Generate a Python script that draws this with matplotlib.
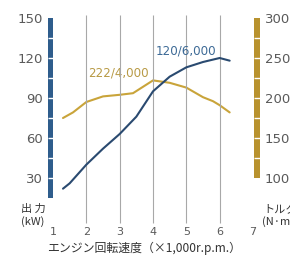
import matplotlib
matplotlib.use("Agg")
import matplotlib.pyplot as plt
from matplotlib.patches import Rectangle

plt.rcParams['font.family'] = ['Noto Sans CJK JP', 'DejaVu Sans']

# data
power_rpm = [1.3, 1.5, 2.0, 2.5, 3.0, 3.5, 4.0, 4.5, 5.0, 5.5, 6.0, 6.3]
power_kw = [22, 26, 40, 52, 63, 76, 95, 106, 113, 117, 120, 118]
torque_rpm = [1.3, 1.6, 2.0, 2.5, 3.0, 3.4, 3.7, 4.0, 4.5, 5.0, 5.5, 5.8, 6.0, 6.3]
torque_nm = [175, 182, 195, 202, 204, 206, 214, 222, 219, 213, 201, 196, 191, 182]
x_ticks = [1, 2, 3, 4, 5, 6, 7]
power_ticks = [30, 60, 90, 120, 150]
torque_ticks = [100, 150, 200, 250, 300]
power_label = "120/6,000"
torque_label = "222/4,000"

blue_bar = '#2f5d8c'
blue_line = '#2a4a70'
blue_text = '#3d6a96'
gold_bar = '#b8922e'
gold_line = '#c9a43a'
gold_text = '#b89a45'
tick_col = '#5a5a5a'

fig = plt.figure(figsize=(2.9, 2.57), dpi=100)
ax = fig.add_axes([53/290, 1-223/257, 200/290, 205/257])
ax.set_xlim(1, 7)
ax.set_ylim(-3.75, 150)
ax2 = ax.twinx()
ax2.set_ylim(43.75, 300)

for a in (ax, ax2):
    for s in a.spines.values():
        s.set_visible(False)
    a.patch.set_visible(False)

# grid lines
ax.vlines([2, 3, 4, 5, 6], -3.75, 152, colors='#a8a8a8', lw=0.8, clip_on=False, zorder=1)

# left bar
ax.add_patch(Rectangle((0.855, 15), 0.145, 135, color=blue_bar, clip_on=False, lw=0, zorder=2))
ax.hlines(list(range(30, 150, 15)), 0.85, 1.005, colors='white', lw=1.0, clip_on=False, zorder=3)
# right bar
ax2.add_patch(Rectangle((7.03, 100), 0.18, 200, color=gold_bar, clip_on=False, lw=0, zorder=2))
ax2.hlines(list(range(125, 300, 25)), 7.025, 7.215, colors='white', lw=1.0, clip_on=False, zorder=3)

# curves
ax2.plot(torque_rpm, torque_nm, color=gold_line, lw=1.5, zorder=4, solid_capstyle='round')
ax.plot(power_rpm, power_kw, color=blue_line, lw=1.5, zorder=5, solid_capstyle='round')
ax.set_zorder(ax2.get_zorder() + 1)

ax.text(4.99, 125.5, power_label, color=blue_text, fontsize=8.6, ha='center', va='center',
        family='DejaVu Sans')
ax2.text(2.95, 231, torque_label, color=gold_text, fontsize=8.6, ha='center', va='center',
         family='DejaVu Sans')

# ticks
ax.set_xticks(x_ticks)
ax.set_xticklabels([str(v) for v in x_ticks], family='DejaVu Sans')
ax.set_yticks(power_ticks)
ax.set_yticklabels([str(v) for v in power_ticks], family='DejaVu Sans')
ax2.set_yticks(torque_ticks)
ax2.set_yticklabels([str(v) for v in torque_ticks], family='DejaVu Sans')
ax.tick_params(axis='x', length=0, pad=3, labelsize=8, labelcolor=tick_col)
ax.tick_params(axis='y', length=0, pad=7.5, labelsize=9.5, labelcolor=tick_col)
ax2.tick_params(axis='y', length=0, pad=8.5, labelsize=9.5, labelcolor=tick_col)

fig.text(144/290, 1-248/257, 'エンジン回転速度（×1,000r.p.m.）', ha='center', va='center',
         fontsize=8.6, color='#333333')
fig.text(21/290, 1-209/257, '出 力', ha='left', va='center', fontsize=8, color='#333333')
fig.text(21/290, 1-222/257, '(kW)', ha='left', va='center', fontsize=8, color='#333333')
fig.text(263/290, 1-209/257, 'トルク', ha='left', va='center', fontsize=8, color='#333333')
fig.text(262/290, 1-222/257, '(N·m)', ha='left', va='center', fontsize=8, color='#333333')

fig.savefig('out.png', dpi=100, facecolor='white')
